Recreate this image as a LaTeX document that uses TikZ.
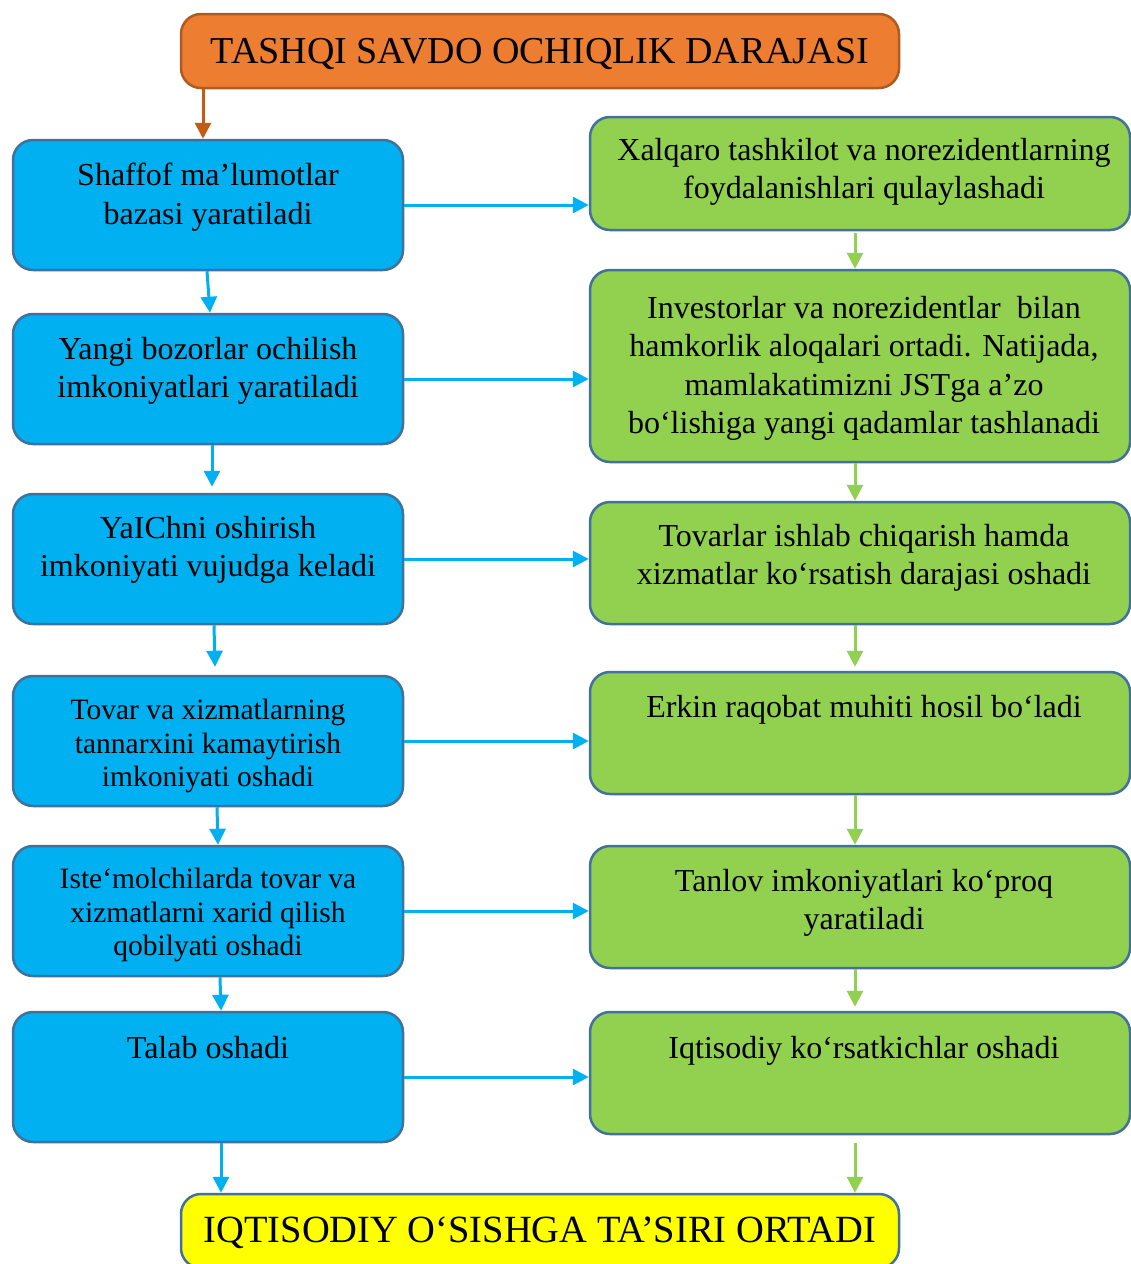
\documentclass[tikz,border=0pt]{standalone}
\usepackage{fontspec}
\setmainfont{Liberation Serif}
\usetikzlibrary{arrows.meta}
\definecolor{cblue}{HTML}{00B0F0}
\definecolor{cgreen}{HTML}{92D050}
\definecolor{corange}{HTML}{ED7D31}
\definecolor{corangeline}{HTML}{AE5A21}
\definecolor{corangearrow}{HTML}{C55A11}
\definecolor{cyellow}{HTML}{FFFF00}
\definecolor{cborder}{HTML}{41719C}
\tikzset{
  x=1pt, y=-1pt,
  boxbase/.style={rounded corners=20pt, line width=2.5pt, draw=cborder, inner sep=0pt},
  lbox/.style={boxbase, fill=cblue, minimum width=390pt},
  rbox/.style={boxbase, fill=cgreen, minimum width=540pt},
  txt/.style={align=center, inner sep=0pt, anchor=north, font=\fontsize{32}{38.5}\selectfont},
  txtsmall/.style={align=center, inner sep=0pt, anchor=north, font=\fontsize{29.5}{33.5}\selectfont},
  arrowbase/.style={line width=3pt, -{Triangle[length=16pt,width=16pt]}},
  barrow/.style={arrowbase, draw=cblue},
  garrow/.style={arrowbase, draw=cgreen},
  oarrow/.style={arrowbase, draw=corangearrow},
}
\begin{document}
\begin{tikzpicture}
\useasboundingbox (0,0) rectangle (1131,1264);
% title
\node[boxbase, draw=corangeline, fill=corange, minimum width=718pt, minimum height=74pt] (T) at (540,51) {};
\node[inner sep=0pt, anchor=base, font=\fontsize{38}{44}\selectfont] (Tt) at (540,63) {TASHQI SAVDO OCHIQLIK DARAJASI};
% bottom
\node[boxbase, fill=cyellow, minimum width=718pt, minimum height=74pt] (Y) at (540,1231) {};
\node[inner sep=0pt, anchor=base, font=\fontsize{38.5}{44}\selectfont] (Yt) at (540,1242) {IQTISODIY O‘SISHGA TA’SIRI ORTADI};
% left boxes
\node[lbox, minimum height=130pt] (L1) at (208,205) {};
\node[lbox, minimum height=130pt] (L2) at (208,379) {};
\node[lbox, minimum height=130pt] (L3) at (208,559) {};
\node[lbox, minimum height=130pt] (L4) at (208,741) {};
\node[lbox, minimum height=130pt] (L5) at (208,911) {};
\node[lbox, minimum height=130pt] (L6) at (208,1077) {};
\node[txt] (L1t) at (208,163) {Shaffof ma’lumotlar\\bazasi yaratiladi};
\node[txt] (L2t) at (208,337) {Yangi bozorlar ochilish\\imkoniyatlari yaratiladi};
\node[txt] (L3t) at (208,516) {YaIChni oshirish\\imkoniyati vujudga keladi};
\node[txtsmall] (L4t) at (208,699) {Tovar va xizmatlarning\\tannarxini kamaytirish\\imkoniyati oshadi};
\node[txtsmall] (L5t) at (208,868) {Iste‘molchilarda tovar va\\xizmatlarni xarid qilish\\qobilyati oshadi};
\node[txt] (L6t) at (208,1036) {Talab oshadi};
% right boxes
\node[rbox, minimum height=113pt] (R1) at (860,173.5) {};
\node[rbox, minimum height=192pt] (R2) at (860,366) {};
\node[rbox, minimum height=122pt] (R3) at (860,563) {};
\node[rbox, minimum height=122pt] (R4) at (860,733) {};
\node[rbox, minimum height=122pt] (R5) at (860,907) {};
\node[rbox, minimum height=122pt] (R6) at (860,1073) {};
\node[txt] (R1t) at (864,138) {Xalqaro tashkilot va norezidentlarning\\foydalanishlari qulaylashadi};
\node[txt] (R2t) at (864,296) {Investorlar va norezidentlar\ \ bilan\\hamkorlik aloqalari ortadi. Natijada,\\mamlakatimizni JSTga a’zo\\bo‘lishiga yangi qadamlar tashlanadi};
\node[txt] (R3t) at (864,524) {Tovarlar ishlab chiqarish hamda\\xizmatlar ko‘rsatish darajasi oshadi};
\node[txt] (R4t) at (864,695) {Erkin raqobat muhiti hosil bo‘ladi};
\node[txt] (R5t) at (864,869) {Tanlov imkoniyatlari ko‘proq\\yaratiladi};
\node[txt] (R6t) at (864,1036) {Iqtisodiy ko‘rsatkichlar oshadi};
% arrows
\draw[oarrow] ([xshift=-337pt]T.south) -- ([xshift=-5pt]L1.north);
\draw[barrow] ([xshift=-1pt]L1.south) -- ([xshift=2pt]L2.north);
\draw[barrow] ([xshift=4pt]L2.south) -- ([xshift=4pt,yshift=6pt]L3.north);
\draw[barrow] ([xshift=6pt]L3.south) -- ([xshift=7pt,yshift=8pt]L4.north);
\draw[barrow] ([xshift=9pt]L4.south) -- ([xshift=10pt]L5.north);
\draw[barrow] ([xshift=12pt]L5.south) -- ([xshift=13pt]L6.north);
\coordinate (B6) at ([xshift=13pt]L6.south);
\draw[barrow] (B6) -- (B6 |- Y.north);
\foreach \i in {1,...,6}{
  \draw[barrow] (L\i.east) -- (L\i.east -| R\i.west);
}
\draw[garrow] ([xshift=-5pt,yshift=-2pt]R1.south) -- ([xshift=-5pt]R2.north);
\draw[garrow] ([xshift=-5pt]R2.south) -- ([xshift=-5pt]R3.north);
\draw[garrow] ([xshift=-5pt]R3.south) -- ([xshift=-5pt,yshift=4pt]R4.north);
\draw[garrow] ([xshift=-5pt]R4.south) -- ([xshift=-5pt]R5.north);
\draw[garrow] ([xshift=-5pt]R5.south) -- ([xshift=-5pt,yshift=4pt]R6.north);
\coordinate (G6) at ([xshift=-5pt,yshift=-8pt]R6.south);
\draw[garrow] (G6) -- (G6 |- Y.north);
\end{tikzpicture}
\end{document}
